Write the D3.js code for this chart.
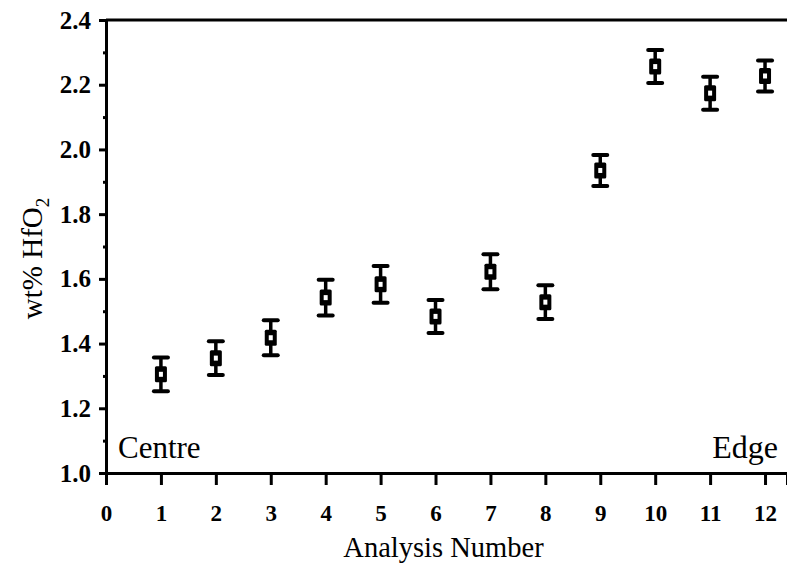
<!DOCTYPE html>
<html>
<head>
<meta charset="utf-8">
<script src="https://cdn.jsdelivr.net/npm/d3@7"></script>
<style>
  body { margin: 0; background: #fff; }
  text { font-family: "Liberation Serif", "Times New Roman", serif; fill: #000; }
</style>
</head>
<body>
<div id="chart"></div>
<script>
// analysis number vs wt% HfO2, with error bars
let analysis = [1, 2, 3, 4, 5, 6, 7, 8, 9, 10, 11, 12];
let hfo2 = [1.305, 1.355, 1.418, 1.542, 1.583, 1.484, 1.622, 1.528, 1.935, 2.256, 2.174, 2.227];
let err = [0.052, 0.052, 0.054, 0.055, 0.057, 0.051, 0.054, 0.052, 0.048, 0.051, 0.051, 0.048];
let xTicks = [0, 1, 2, 3, 4, 5, 6, 7, 8, 9, 10, 11, 12];
let yTicks = [1.0, 1.2, 1.4, 1.6, 1.8, 2.0, 2.2, 2.4];
let yMinor = [1.1, 1.3, 1.5, 1.7, 1.9, 2.1, 2.3];

let margin = {top: 20, right: 0, bottom: 91, left: 106}
    , width = 787 - margin.left - margin.right
    , height = 564 - margin.top - margin.bottom;

let svg = d3.select("#chart").append("svg")
    .attr("width", 787)
    .attr("height", 564)
    .append("g")
    .attr("transform", "translate(" + margin.left + "," + margin.top + ")");

let x = d3.scaleLinear().domain([0, 12.4]).range([0, width]);
let y = d3.scaleLinear().domain([1.0, 2.4]).range([height, 0]);

// top frame line
svg.append("line")
    .attr("x1", 0).attr("x2", width)
    .attr("y1", 0).attr("y2", 0)
    .attr("stroke", "#000").attr("stroke-width", 3);

let xAxis = svg.append("g")
    .attr("transform", "translate(0," + height + ")")
    .call(d3.axisBottom(x).tickValues(xTicks).tickSize(12).tickPadding(20).tickFormat(d3.format("d")));

let yAxis = svg.append("g")
    .call(d3.axisLeft(y).tickValues(yTicks).tickSize(7).tickPadding(8).tickFormat(d3.format(".1f")));

// minor y ticks
svg.append("g")
    .call(d3.axisLeft(y).tickValues(yMinor).tickSize(3).tickFormat(""))
    .select(".domain").remove();

svg.selectAll(".domain").attr("stroke", "#000").attr("stroke-width", 3);
svg.selectAll(".tick line").attr("stroke", "#000").attr("stroke-width", 3);
xAxis.selectAll("text").style("font-size", "23px").style("font-weight", "bold");
yAxis.selectAll("text").style("font-size", "25px").style("font-weight", "bold");

// error bars
let pts = svg.selectAll(".pt")
    .data(analysis)
    .enter().append("g")
    .attr("class", "pt");

pts.append("line")
    .attr("x1", d => x(d)).attr("x2", d => x(d))
    .attr("y1", (d, i) => y(hfo2[i] + err[i]))
    .attr("y2", (d, i) => y(hfo2[i] - err[i]))
    .attr("stroke", "#000").attr("stroke-width", 3.5);

pts.selectAll(".cap")
    .data((d, i) => [[d, hfo2[i] + err[i]], [d, hfo2[i] - err[i]]])
    .enter().append("line")
    .attr("x1", d => x(d[0]) - 7).attr("x2", d => x(d[0]) + 7)
    .attr("y1", d => y(d[1])).attr("y2", d => y(d[1]))
    .attr("stroke", "#000").attr("stroke-width", 4)
    .attr("stroke-linecap", "round");

pts.append("rect")
    .attr("x", d => x(d) - 6)
    .attr("y", (d, i) => y(hfo2[i]) - 8)
    .attr("width", 12).attr("height", 16)
    .attr("rx", 1.5)
    .attr("fill", "#000");

pts.append("rect")
    .attr("x", d => x(d) - 2)
    .attr("y", (d, i) => y(hfo2[i]) - 2.5)
    .attr("width", 4).attr("height", 5)
    .attr("fill", "#fff");

// annotations
svg.append("text")
    .attr("x", 12).attr("y", height - 15)
    .style("font-size", "31px")
    .text("Centre");

svg.append("text")
    .attr("x", width - 9).attr("y", height - 15)
    .attr("text-anchor", "end")
    .style("font-size", "32px")
    .text("Edge");

// axis titles
svg.append("text")
    .attr("x", width / 2 - 3).attr("y", height + 84)
    .attr("text-anchor", "middle")
    .style("font-size", "28.5px")
    .text("Analysis Number");

let ylab = svg.append("text")
    .attr("transform", "translate(-64," + (height / 2 + 12) + ") rotate(-90)")
    .attr("text-anchor", "middle")
    .style("font-size", "29px");
ylab.append("tspan").text("wt% HfO");
ylab.append("tspan").attr("dy", 7).style("font-size", "19px").text("2");
</script>
</body>
</html>
